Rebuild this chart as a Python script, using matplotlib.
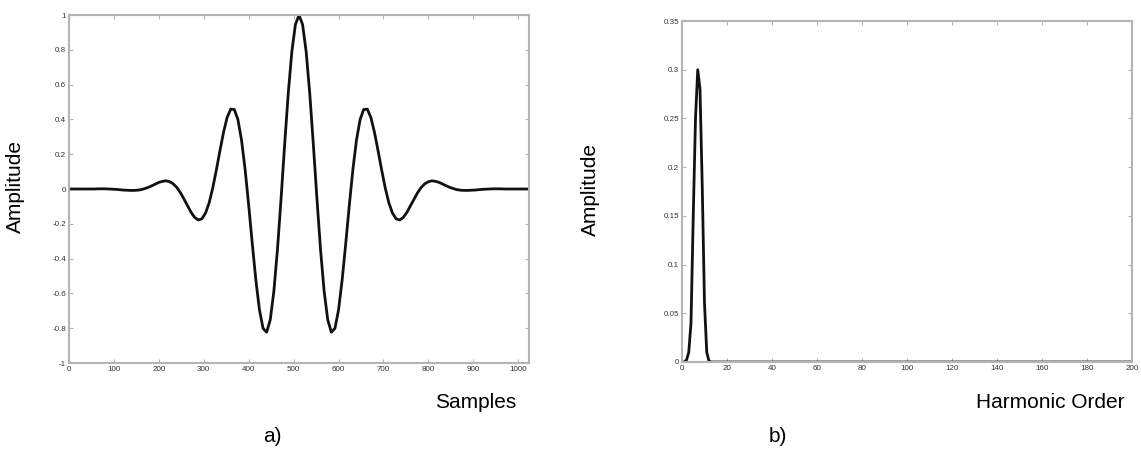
import numpy as np
import matplotlib
matplotlib.use("Agg")
import matplotlib.pyplot as plt

# ---- data ----
samples = list(range(0, 1025, 8))
# amplitude from the centre (sample 512) outwards, every 8 samples; curve is symmetric
half = [1.000, 0.945, 0.788, 0.547, 0.253, -0.058, -0.350, -0.589,
        -0.752, -0.823, -0.801, -0.695, -0.524, -0.315, -0.093, 0.113,
        0.282, 0.399, 0.457, 0.459, 0.411, 0.326, 0.220, 0.109,
        0.006, -0.079, -0.138, -0.171, -0.178, -0.164, -0.135, -0.097,
        -0.058, -0.021, 0.009, 0.030, 0.042, 0.047, 0.044, 0.038,
        0.028, 0.018, 0.009, 0.002, -0.004, -0.007, -0.008, -0.008,
        -0.007, -0.006, -0.004, -0.002, -0.001, 0.000, 0.001, 0.001,
        0.001, 0.000, 0.000, 0.000, 0.000, 0.000, 0.000, 0.000, 0.000]
amplitude_a = half[::-1][:-1] + half

harmonics = list(range(0, 201))
amp_b_head = [0.0, 0.0, 0.002, 0.01, 0.04, 0.15, 0.25, 0.30, 0.28, 0.18, 0.06, 0.01, 0.001]
amplitude_b = amp_b_head + [0.0] * (len(harmonics) - len(amp_b_head))

xticks_a = [0, 100, 200, 300, 400, 500, 600, 700, 800, 900, 1000]
yticks_a = [-1, -0.8, -0.6, -0.4, -0.2, 0, 0.2, 0.4, 0.6, 0.8, 1]
xticks_b = [0, 20, 40, 60, 80, 100, 120, 140, 160, 180, 200]
yticks_b = [0, 0.05, 0.1, 0.15, 0.2, 0.25, 0.3, 0.35]

plt.rcParams['font.family'] = ['Liberation Sans', 'DejaVu Sans']

fig = plt.figure(figsize=(11.41, 4.49), dpi=100)
W, H = 1141, 449

def ax_at(x0, x1, ytop, ybot):
    return fig.add_axes([x0 / W, 1 - ybot / H, (x1 - x0) / W, (ybot - ytop) / H])

axA = ax_at(69, 529, 15, 363)
axB = ax_at(682, 1132, 21, 362)

spine_col = '#b4b4b4'
for ax in (axA, axB):
    for s in ax.spines.values():
        s.set_color(spine_col)
        s.set_linewidth(1.5)
    ax.tick_params(direction='in', length=3, width=0.8, color=spine_col,
                   top=True, right=True, labelsize=5.8, labelcolor='#333333', pad=2)

axA.plot(samples, amplitude_a, color='#111111', lw=2.0)
axA.set_xlim(0, 1024)
axA.set_ylim(-1, 1)
axA.set_xticks(xticks_a)
axA.set_xticklabels([str(v) for v in xticks_a])
axA.set_yticks(yticks_a)
axA.set_yticklabels([('%g' % v) for v in yticks_a])

axB.plot(harmonics, amplitude_b, color='#111111', lw=2.0)
axB.set_xlim(0, 200)
axB.set_ylim(0, 0.35)
axB.set_xticks(xticks_b)
axB.set_xticklabels([str(v) for v in xticks_b])
axB.set_yticks(yticks_b)
axB.set_yticklabels([('%g' % v) for v in yticks_b])

fs = 15
fig.text(15 / W, 1 - 187 / H, 'Amplitude', rotation=90, ha='center', va='center', fontsize=fs)
fig.text(590 / W, 1 - 190 / H, 'Amplitude', rotation=90, ha='center', va='center', fontsize=fs)
fig.text(476 / W, 1 - 403 / H, 'Samples', ha='center', va='center', fontsize=fs)
fig.text(1050 / W, 1 - 403 / H, 'Harmonic Order', ha='center', va='center', fontsize=fs)
fig.text(272 / W, 1 - 437 / H, 'a)', ha='center', va='center', fontsize=fs)
fig.text(778 / W, 1 - 437 / H, 'b)', ha='center', va='center', fontsize=fs)

fig.savefig('out.png', dpi=100)
